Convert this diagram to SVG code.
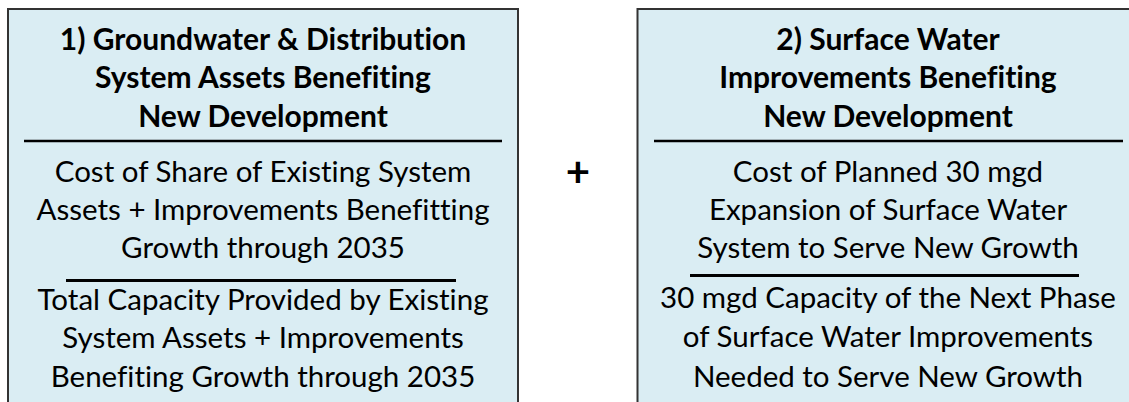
<svg xmlns="http://www.w3.org/2000/svg" width="1129" height="402" viewBox="0 0 1129 402">
<style>
.box{fill:#daedf3;stroke:#333;stroke-width:2}
.t{font-family:Lato,"Liberation Sans",sans-serif;font-size:29.5px;fill:#000;text-anchor:middle;font-variant-ligatures:none;font-feature-settings:"liga" 0,"dlig" 0}
.b{font-weight:bold;font-size:30px}
.rule{stroke:#000;stroke-width:2.5}
.rule2{stroke:#000;stroke-width:3}
</style>
<rect width="1129" height="402" fill="#fff"/>
<g id="node1">
<rect class="box" x="8" y="9" width="510" height="400"/>
<text class="t b" x="263" y="50">1) Groundwater &amp; Distribution</text>
<text class="t b" x="263" y="88">System Assets Benefiting</text>
<text class="t b" x="263" y="127">New Development</text>
<line class="rule" x1="24" y1="141" x2="502" y2="141"/>
<text class="t" x="263" y="182">Cost of Share of Existing System</text>
<text class="t" x="263" y="220">Assets + Improvements Benefitting</text>
<text class="t" x="263" y="258">Growth through 2035</text>
<line class="rule2" x1="66" y1="280.5" x2="456" y2="280.5"/>
<text class="t" x="263" y="310">Total Capacity Provided by Existing</text>
<text class="t" x="263" y="348">System Assets + Improvements</text>
<text class="t" x="263" y="387">Benefiting Growth through 2035</text>
</g>
<g id="plus">
<text class="t b" x="578" y="187" style="font-size:42px">+</text>
</g>
<g id="node2">
<rect class="box" x="637.5" y="9" width="502" height="400"/>
<text class="t b" x="888" y="50">2) Surface Water</text>
<text class="t b" x="888" y="88">Improvements Benefiting</text>
<text class="t b" x="888" y="127">New Development</text>
<line class="rule" x1="654" y1="141" x2="1123" y2="141"/>
<text class="t" x="888" y="182">Cost of Planned 30 mgd</text>
<text class="t" x="888" y="220">Expansion of Surface Water</text>
<text class="t" x="888" y="258">System to Serve New Growth</text>
<line class="rule2" x1="690" y1="275.5" x2="1079" y2="275.5"/>
<text class="t" x="888" y="308">30 mgd Capacity of the Next Phase</text>
<text class="t" x="888" y="347">of Surface Water Improvements</text>
<text class="t" x="888" y="387">Needed to Serve New Growth</text>
</g>
<g id="connectors"/>
</svg>
